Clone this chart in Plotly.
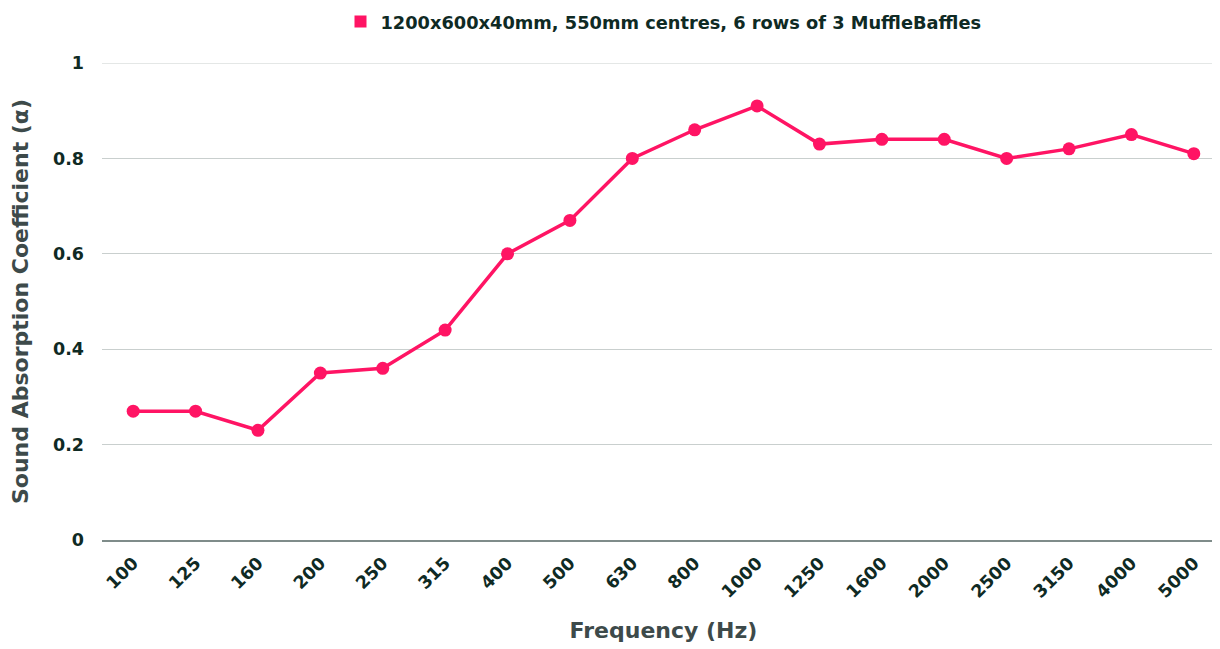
import plotly.graph_objects as go

freqs = ["100", "125", "160", "200", "250", "315", "400", "500", "630", "800",
         "1000", "1250", "1600", "2000", "2500", "3150", "4000", "5000"]
alpha = [0.27, 0.27, 0.23, 0.35, 0.36, 0.44, 0.60, 0.67, 0.80, 0.86,
         0.91, 0.83, 0.84, 0.84, 0.80, 0.82, 0.85, 0.81]
series_name = "1200x600x40mm, 550mm centres, 6 rows of 3 MuffleBaffles"
y_ticks = [0, 0.2, 0.4, 0.6, 0.8, 1]
y_ticklabels = ["0", "0.2", "0.4", "0.6", "0.8", "1"]

PINK = "#ff1464"
TEXT = "#0f2a24"
TITLE = "#3d4a4a"
GRID = "#c9cfce"
FONT = "DejaVu Sans"

fig = go.Figure()
fig.add_trace(go.Scatter(
    x=freqs, y=alpha, name=series_name, mode="lines+markers",
    line=dict(color=PINK, width=3.5),
    marker=dict(color=PINK, size=13, symbol="circle"),
    showlegend=False,
))
# legend entry (square swatch)
fig.add_trace(go.Scatter(
    x=[None], y=[None], name=series_name, mode="markers",
    marker=dict(color=PINK, size=17, symbol="square"),
    showlegend=True,
))
# top gridline at the upper range edge
fig.add_hline(y=y_ticks[-1], line=dict(color=GRID, width=1), layer="below")

# page body has an 8px margin, so the figure is shifted by 8px
fig.update_layout(
    width=1217, height=641,
    margin=dict(l=94, r=0, t=55, b=109, autoexpand=False),
    paper_bgcolor="white", plot_bgcolor="white",
    font=dict(family=FONT, color=TEXT, size=17),
    showlegend=True,
    legend=dict(orientation="h", x=0.5, xanchor="center", y=1.086, yanchor="middle",
                yref="paper", font=dict(family=FONT, size=17.8, color=TEXT, weight="bold"),
                itemsizing="constant"),
    xaxis=dict(
        type="category", range=[-0.5, 17.5], automargin=False,
        tickangle=-45, tickfont=dict(family=FONT, size=17.5, color=TEXT, weight="bold"),
        showgrid=False, showline=True, linecolor="#7f8c8a", linewidth=2,
        ticks="outside", ticklen=4, tickcolor="rgba(0,0,0,0)",
        title=dict(text="Frequency (Hz)", font=dict(family=FONT, size=22, color=TITLE, weight="bold"), standoff=22),
    ),
    yaxis=dict(
        range=[0, 1], tickvals=y_ticks, ticktext=y_ticklabels, automargin=False,
        tickfont=dict(family=FONT, size=17.5, color=TEXT, weight="bold"),
        showgrid=True, gridcolor=GRID, gridwidth=1,
        zeroline=False, ticks="", ticklabelstandoff=17,
        title=dict(text="Sound Absorption Coefficient (α)", font=dict(family=FONT, size=22, color=TITLE, weight="bold"), standoff=20),
    ),
)
fig.write_html("out.html")
